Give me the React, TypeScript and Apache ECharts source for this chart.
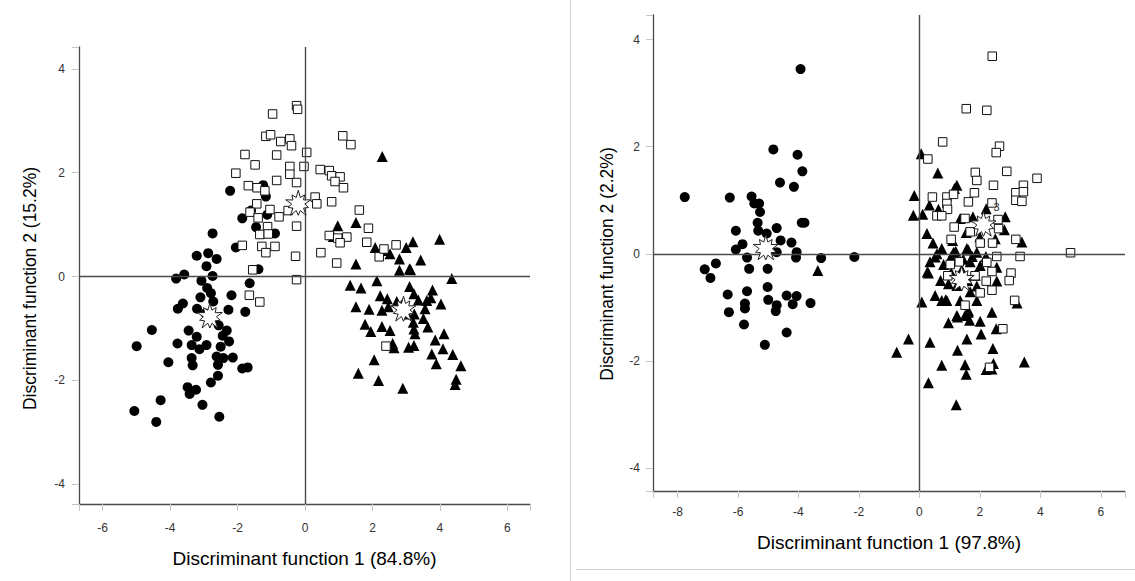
import React, { useEffect, useRef } from "react";
import * as echarts from "echarts";

const FONT = "'Liberation Sans', Arial, Helvetica, sans-serif";

const leftTitleX = "Discriminant function 1 (84.8%)";
const leftTitleY = "Discriminant function 2 (15.2%)";
const rightTitleX = "Discriminant function 1 (97.8%)";
const rightTitleY = "Discriminant function 2 (2.2%)";

// ---------- left panel ----------
const leftCircles: number[][] = [
  [-2.22, 1.65], [-1.24, 1.76], [-1.16, 1.54], [-1.6, 1.27], [-1.86, 1.12], [-1.45, 0.95], [-1.12, 1.19],
  [-0.89, 0.83], [-2.74, 0.83], [-2.05, 0.56], [-3.21, 0.4], [-2.87, 0.45], [-2.62, 0.34], [-2.92, 0.2],
  [-3.82, -0.04], [-3.58, 0.04], [-3.07, -0.08], [-2.74, 0.01], [-1.38, 0.14], [-1.64, -0.13], [-2.9, -0.22],
  [-2.79, -0.32], [-3.1, -0.4], [-2.18, -0.36], [-2.72, -0.48], [-3.62, -0.52], [-3.77, -0.62], [-3.2, -0.62],
  [-2.27, -0.64], [-1.77, -0.68], [-2.95, -0.71], [-2.56, -0.94], [-2.32, -1.04], [-4.54, -1.03], [-3.45, -1.04],
  [-3.21, -1.16], [-2.44, -1.14], [-2.25, -1.25], [-4.99, -1.34], [-3.78, -1.29], [-3.36, -1.32], [-2.92, -1.32],
  [-3.13, -1.4], [-2.5, -1.35], [-4.05, -1.65], [-3.36, -1.57], [-3.33, -1.71], [-2.62, -1.54], [-2.42, -1.57],
  [-2.14, -1.56], [-2.58, -1.7], [-1.86, -1.77], [-1.7, -1.75], [-2.58, -1.91], [-2.79, -2.04], [-3.48, -2.13],
  [-3.23, -2.18], [-3.42, -2.26], [-4.28, -2.38], [-3.04, -2.47], [-5.06, -2.59], [-4.41, -2.8], [-2.54, -2.7],
];
const leftSquares: number[][] = [
  [-0.25, 3.29], [-0.22, 3.22], [-0.96, 3.13], [-1.16, 2.7], [-1.02, 2.73], [-0.72, 2.6], [-0.45, 2.65],
  [-0.4, 2.52], [1.12, 2.71], [1.36, 2.54], [-1.78, 2.35], [-0.84, 2.34], [0.05, 2.39], [-1.48, 2.15],
  [-0.45, 2.12], [-0.03, 2.12], [-0.45, 1.97], [0.45, 2.06], [0.72, 2.04], [0.79, 1.94], [1.04, 1.92],
  [0.89, 1.83], [1.14, 1.71], [-2.05, 1.99], [-0.84, 1.85], [-0.25, 1.81], [-1.68, 1.75], [-1.42, 1.71],
  [-1.19, 1.65], [-1.43, 1.4], [-1.04, 1.29], [-0.77, 1.15], [-0.5, 1.27], [0.3, 1.53], [0.35, 1.4],
  [0.79, 1.44], [1.61, 1.28], [-1.63, 1.24], [-1.39, 1.13], [-1.11, 0.96], [-1.34, 0.81], [-1.09, 0.82],
  [-0.25, 0.97], [0.72, 0.79], [0.97, 0.74], [1.24, 0.76], [1.88, 0.93], [1.83, 0.66], [1.04, 0.65],
  [-1.86, 0.6], [-1.28, 0.58], [-0.89, 0.58], [-1.16, 0.46], [0.47, 0.46], [-0.28, 0.39], [0.94, 0.26],
  [-1.55, 0.13], [-0.25, -0.06], [-1.65, -0.36], [-1.34, -0.49], [2.2, 0.38], [2.7, 0.61], [2.34, 0.53],
  [2.4, -1.34],
];
const leftTriangles: number[][] = [
  [0.97, 0.98], [0.84, 0.77], [1.51, 1.04], [2.08, 0.56], [2.37, 0.5], [2.52, 0.44], [2.8, 0.34], [3.0, 0.56],
  [3.2, 0.67], [3.99, 0.72], [3.43, 0.32], [1.51, 0.24], [3.1, 0.15], [2.8, 0.12], [4.35, -0.04], [1.34, -0.17],
  [1.66, -0.22], [2.13, -0.08], [3.1, -0.19], [3.78, -0.26], [2.23, -0.37], [2.44, -0.43], [1.51, -0.58],
  [1.9, -0.63], [2.28, -0.65], [2.47, -0.58], [3.23, -0.33], [3.36, -0.45], [3.61, -0.46], [3.73, -0.41],
  [4.03, -0.53], [3.56, -0.62], [3.24, -0.72], [3.04, -0.72], [1.78, -0.92], [1.95, -1.06], [2.28, -0.96],
  [2.52, -1.04], [3.21, -0.88], [3.51, -0.81], [3.64, -0.97], [3.23, -1.01], [3.26, -1.1], [4.12, -1.1],
  [3.86, -1.22], [2.6, -1.29], [2.64, -1.37], [3.07, -1.36], [3.23, -1.33], [4.09, -1.39], [3.76, -1.49],
  [4.38, -1.5], [3.89, -1.68], [4.62, -1.72], [2.05, -1.6], [1.58, -1.86], [2.18, -2.0], [2.9, -2.15],
  [4.48, -1.98], [4.45, -2.08], [2.29, 2.31], [2.72, -0.48], [2.86, -0.55], [3.13, 0.13],
];
const leftCentroids: number[][] = [[-2.82, -0.75], [-0.2, 1.42], [2.92, -0.62]];

// ---------- right panel ----------
const rightCircles: number[][] = [
  [-3.93, 3.45], [-4.83, 1.95], [-4.03, 1.85], [-3.87, 1.54], [-4.61, 1.33], [-4.15, 1.25], [-7.76, 1.06],
  [-6.27, 1.05], [-5.55, 1.07], [-5.46, 0.94], [-5.3, 0.94], [-5.27, 0.78], [-3.89, 0.58], [-3.8, 0.58],
  [-5.35, 0.58], [-6.07, 0.43], [-4.72, 0.48], [-5.33, 0.43], [-5.05, 0.38], [-4.59, 0.25], [-4.23, 0.21],
  [-5.85, 0.18], [-6.07, 0.08], [-4.72, 0.03], [-4.06, 0.03], [-4.08, -0.07], [-5.7, -0.07], [-3.25, -0.08],
  [-2.15, -0.06], [-6.73, -0.18], [-7.1, -0.29], [-6.91, -0.45], [-5.63, -0.28], [-5.02, -0.28], [-5.02, -0.62],
  [-5.7, -0.7], [-6.34, -0.76], [-4.39, -0.78], [-4.06, -0.79], [-5.0, -0.86], [-4.19, -0.94], [-3.6, -0.92],
  [-5.77, -0.93], [-4.72, -0.96], [-5.77, -1.02], [-4.75, -1.07], [-6.3, -1.09], [-5.8, -1.32], [-4.39, -1.47],
  [-5.11, -1.7],
];
const rightSquares: number[][] = [
  [2.41, 3.69], [1.55, 2.71], [2.23, 2.68], [0.77, 2.09], [2.65, 2.01], [2.54, 1.89], [0.28, 1.77], [1.85, 1.52],
  [1.9, 1.37], [2.89, 1.54], [3.89, 1.41], [2.45, 1.28], [3.44, 1.28], [3.19, 1.14], [3.44, 1.16], [3.19, 1.0],
  [3.39, 0.98], [1.82, 1.14], [0.43, 1.06], [0.91, 1.06], [1.13, 1.11], [1.62, 0.97], [0.91, 0.94], [0.93, 0.83],
  [0.58, 0.71], [0.74, 0.71], [1.51, 0.66], [2.4, 0.95], [2.6, 0.64], [1.15, 0.5], [1.68, 0.41], [2.62, 0.47],
  [1.05, 0.27], [2.01, 0.2], [2.42, 0.2], [3.19, 0.27], [3.33, -0.05], [2.56, -0.05], [5.0, 0.02], [1.02, -0.2],
  [1.32, -0.15], [2.23, -0.16], [0.94, -0.41], [1.84, -0.41], [2.4, -0.33], [3.03, -0.36], [2.97, -0.5],
  [2.21, -0.51], [2.4, -0.68], [2.01, -0.73], [3.15, -0.87], [1.51, -0.96], [2.76, -1.4], [2.32, -2.12],
];
const rightTriangles: number[][] = [
  [0.06, 1.87], [0.61, 1.51], [1.24, 1.28], [1.16, 1.22], [-0.17, 1.09], [0.33, 0.91], [0.63, 0.83], [-0.2, 0.72],
  [0.11, 0.74], [0.25, 0.38], [1.35, 0.66], [1.77, 0.69], [2.21, 0.84], [2.84, 0.69], [2.81, 0.45], [2.51, 0.28],
  [3.39, 0.22], [0.74, 0.1], [0.52, -0.06], [0.35, -0.15], [1.13, 0.03], [1.57, 0.1], [1.9, 0.03], [1.68, -0.15],
  [2.01, -0.22], [2.56, -0.25], [0.3, -0.36], [0.96, -0.56], [2.56, -0.51], [0.08, -0.9], [0.52, -0.78],
  [0.91, -0.87], [1.35, -0.87], [1.9, -0.87], [3.23, -0.92], [2.4, -1.09], [1.24, -1.15], [1.62, -1.09],
  [0.58, 0.0], [1.62, 0.07], [0.26, -0.34], [1.24, -0.59], [1.68, -0.71], [0.74, -0.87], [0.87, -0.86],
  [1.62, -1.06], [1.51, -1.15], [1.26, -1.18], [0.96, -1.29], [1.66, -1.24], [2.01, -1.26], [2.54, -1.4],
  [1.57, -1.59], [2.04, -1.5], [-0.36, -1.59], [0.35, -1.65], [-0.75, -1.84], [1.26, -1.8], [2.43, -1.77],
  [0.74, -2.08], [1.51, -2.07], [2.45, -2.05], [2.4, -2.15], [2.21, -2.16], [3.47, -2.02], [1.55, -2.25],
  [0.3, -2.41], [1.22, -2.82], [1.05, -0.05], [1.4, -0.3], [1.85, -0.4], [2.2, -0.05], [1.1, 0.25],
  [1.2, 0.05], [1.45, -0.1], [1.75, -0.05], [1.3, -0.45], [1.6, -0.5], [1.9, -0.6], [0.8, -0.2], [2.0, 0.32],
  [1.55, 0.4], [0.45, 0.2], [1.05, -0.35], [0.7, -0.5], [-3.36, -0.31],
];
const rightCentroids: number[][] = [[-5.08, 0.12], [2.12, 0.56], [1.4, -0.46]];
const rightCentroidLabels: string[] = ["", "3", ""];

// axis ranges
const leftX = [-6.7, 6.67];
const leftY = [-4.38, 4.42];
const rightX = [-8.81, 6.8];
const rightY = [-4.43, 4.46];

function starPath(n: number, inner: number): string {
  let d = "";
  for (let i = 0; i < n * 2; i++) {
    const r = i % 2 === 0 ? (i % 4 === 0 ? 1 : 0.82) : inner;
    const a = (Math.PI * i) / n - Math.PI / 2;
    d += (i === 0 ? "M" : "L") + (1 + r * Math.cos(a)).toFixed(3) + " " + (1 + r * Math.sin(a)).toFixed(3) + " ";
  }
  return "path://" + d + "Z";
}
const STAR = starPath(10, 0.5);

const evenLabel = (v: number) => (Math.abs(v - Math.round(v)) < 1e-6 && Math.round(v) % 2 === 0 ? String(Math.round(v)) : "");

function xAxis(grid: number, range: number[], name: string, gap: number, margin: number) {
  return {
    type: "value",
    gridIndex: grid,
    min: range[0],
    max: range[1],
    splitNumber: 7,
    axisLine: { onZero: false, lineStyle: { color: "#4a4a4a", width: 1.3 } },
    axisTick: { show: true, length: 7, lineStyle: { color: "#c4c4c4" } },
    axisLabel: { margin, color: "#333", fontSize: 12, fontFamily: FONT, formatter: evenLabel },
    splitLine: { show: false },
    name,
    nameLocation: "middle",
    nameGap: gap,
    nameTextStyle: { fontSize: 19, color: "#000", fontFamily: FONT },
  };
}
function yAxis(grid: number, range: number[], name: string, gap: number, margin: number, shift: number) {
  return {
    type: "value",
    gridIndex: grid,
    min: range[0],
    max: range[1],
    splitNumber: 4,
    axisLine: { onZero: false, lineStyle: { color: "#4a4a4a", width: 1.3 } },
    axisTick: { show: true, length: 7, lineStyle: { color: "#c4c4c4" } },
    axisLabel: { margin, color: "#333", fontSize: 12, fontFamily: FONT, formatter: evenLabel },
    splitLine: { show: false },
    name,
    nameLocation: "middle",
    nameGap: gap,
    nameTextStyle: { fontSize: 17.5, color: "#000", fontFamily: FONT, padding: [0, shift, 0, 0] },
  };
}

function panelSeries(idx: number, circles: number[][], squares: number[][], triangles: number[][], centroids: number[][], labels: string[]) {
  const base = { type: "scatter", xAxisIndex: idx, yAxisIndex: idx, silent: true };
  return [
    {
      ...base,
      data: [],
      z: 1,
      markLine: {
        silent: true,
        symbol: "none",
        label: { show: false },
        lineStyle: { color: "#4a4a4a", width: 1.4, type: "solid" },
        data: [{ xAxis: 0 }, { yAxis: 0 }],
      },
    },
    { ...base, z: 2, data: circles, symbol: "circle", symbolSize: 10, itemStyle: { color: "#000", opacity: 1 } },
    { ...base, z: 3, data: triangles, symbol: "triangle", symbolSize: 11, itemStyle: { color: "#000", opacity: 1 } },
    {
      ...base,
      z: 4,
      data: squares,
      symbol: "rect",
      symbolSize: 8.5,
      itemStyle: { color: "#fff", borderColor: "#111", borderWidth: 1, opacity: 1 },
    },
    {
      ...base,
      z: 5,
      data: centroids.map((c, i) => ({
        value: c,
        label: labels[i]
          ? { show: true, formatter: labels[i], position: [23, -9], fontSize: 11, color: "#333", fontFamily: FONT }
          : { show: false },
      })),
      symbol: STAR,
      symbolSize: 25,
      itemStyle: { color: "#fff", borderColor: "#222", borderWidth: 1, opacity: 1 },
    },
  ];
}

export default function App() {
  const ref = useRef<HTMLDivElement>(null);
  useEffect(() => {
    if (!ref.current) return;
    const chart = echarts.init(ref.current, null, { renderer: "svg" });
    chart.setOption({
      animation: false,
      backgroundColor: "#fff",
      textStyle: { fontFamily: FONT },
      grid: [
        { left: 79, top: 47, width: 451, height: 457, containLabel: false },
        { left: 653, top: 15, width: 472, height: 476, containLabel: false },
      ],
      xAxis: [xAxis(0, leftX, leftTitleX, 45, 18), xAxis(1, rightX, rightTitleX, 42, 15)],
      yAxis: [yAxis(0, leftY, leftTitleY, 40, 14, 26), yAxis(1, rightY, rightTitleY, 37, 13, 22)],
      graphic: [
        { type: "line", shape: { x1: 570.5, y1: 0, x2: 570.5, y2: 581 }, style: { stroke: "#cfcfcf", lineWidth: 1 }, silent: true },
        { type: "line", shape: { x1: 576, y1: 569.5, x2: 1135, y2: 569.5 }, style: { stroke: "#cfcfcf", lineWidth: 1 }, silent: true },
      ],
      series: [
        ...panelSeries(0, leftCircles, leftSquares, leftTriangles, leftCentroids, ["", "", ""]),
        ...panelSeries(1, rightCircles, rightSquares, rightTriangles, rightCentroids, rightCentroidLabels),
      ],
    });
    return () => chart.dispose();
  }, []);
  return <div ref={ref} style={{ position: "fixed", left: 0, top: 0, width: 1135, height: 581, background: "#fff" }} />;
}
